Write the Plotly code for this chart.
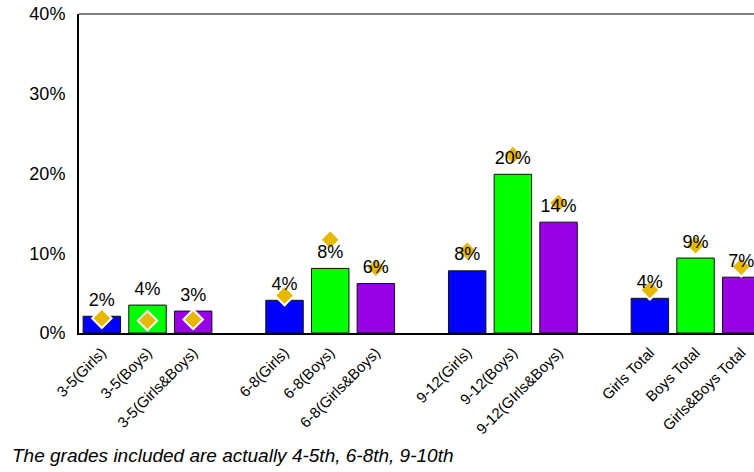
import plotly.graph_objects as go

# ---- data ----
categories = [
    "3-5(Girls)", "3-5(Boys)", "3-5(Girls&Boys)",
    "6-8(Girls)", "6-8(Boys)", "6-8(Girls&Boys)",
    "9-12(Girls)", "9-12(Boys)", "9-12(GIrls&Boys)",
    "Girls Total", "Boys Total", "Girls&Boys Total",
]
bar_values = [2.1, 3.5, 2.75, 4.1, 8.1, 6.2, 7.8, 19.9, 13.9, 4.35, 9.4, 7.0]
diamond_values = [1.85, 1.55, 1.7, 4.7, 11.7, 8.2, 10.3, 22.3, 16.3, 5.4, 11.0, 8.3]
bar_labels = ["2%", "4%", "3%", "4%", "8%", "6%", "8%", "20%", "14%", "4%", "9%", "7%"]
series_colors = ["#0000FF", "#00FF00", "#9900E6"]
y_tick_vals = [0, 10, 20, 30, 40]
y_tick_text = ["0%", "10%", "20%", "30%", "40%"]
footnote = "The grades included are actually 4-5th, 6-8th, 9-10th"

# positions: 3 bars per group, one empty slot between groups
positions = [(i // 3) * 4 + (i % 3) for i in range(len(categories))]
colors = [series_colors[i % 3] for i in range(len(categories))]

FONT = "Liberation Sans, Arial, sans-serif"

fig = go.Figure()
fig.add_trace(go.Bar(
    x=positions, y=bar_values, width=0.82,
    marker=dict(color=colors, line=dict(color="#111111", width=1)),
    hoverinfo="skip", showlegend=False,
))
fig.add_trace(go.Scatter(
    x=positions, y=diamond_values, mode="markers",
    marker=dict(symbol="diamond", size=15, color="#E6B800",
                line=dict(color="white", width=2)),
    cliponaxis=False, showlegend=False, hoverinfo="skip",
))
fig.add_trace(go.Scatter(
    x=positions, y=bar_values, mode="markers+text", text=bar_labels,
    textposition="top center",
    marker=dict(size=8, color="rgba(0,0,0,0)"),
    textfont=dict(family=FONT, size=18, color="#000000"),
    cliponaxis=False, showlegend=False, hoverinfo="skip",
))

W, H = 754, 472
L, T, B, R = 79, 14, 139, 0
plot_w = W - L - R
slot = 45.67
x_end = -0.5 + plot_w / slot

fig.update_layout(
    width=W, height=H,
    margin=dict(l=L, r=R, t=T, b=B, pad=0),
    paper_bgcolor="white", plot_bgcolor="white",
    font=dict(family=FONT, color="#000000"),
    xaxis=dict(
        range=[-0.5, x_end], tickvals=positions, ticktext=categories,
        tickangle=-45, tickfont=dict(family=FONT, size=15, color="#000000"),
        showgrid=False, zeroline=False, showline=True, linecolor="black",
        linewidth=2, ticks="", ticklabelstandoff=3, fixedrange=True,
    ),
    yaxis=dict(
        range=[0, 40], tickvals=y_tick_vals, ticktext=y_tick_text,
        tickfont=dict(family=FONT, size=18, color="#000000"),
        showgrid=False, zeroline=False, showline=True, linecolor="black",
        linewidth=2, ticks="", ticklabelstandoff=8, fixedrange=True,
    ),
    shapes=[dict(type="line", xref="paper", yref="paper", x0=0, x1=1, y0=1, y1=1,
                 line=dict(color="black", width=1))],
    annotations=[dict(
        text="<i>" + footnote + "</i>", xref="paper", yref="paper",
        x=(10 - L) / plot_w, y=(333 - 455) / (H - T - B),
        xanchor="left", yanchor="middle", showarrow=False,
        font=dict(family=FONT, size=19, color="#000000"),
    )],
)

fig.write_html(
    "out.html",
    config={"displayModeBar": False},
    post_script="document.body.style.margin='0';document.body.style.overflow='hidden';",
)
